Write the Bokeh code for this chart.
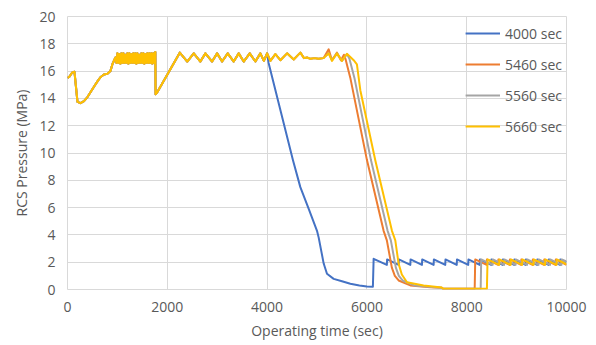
from bokeh.plotting import figure
from bokeh.models import Range1d, Legend, LegendItem, FixedTicker
from bokeh.embed import file_html
from bokeh.resources import INLINE

# ---- data ----
series_names = ["4000 sec", "5460 sec", "5560 sec", "5660 sec"]
series_colors = ["#4472C4", "#ED7D31", "#A5A5A5", "#FFC000"]

# common start (all cases identical up to 4000 s)
common_t = [0, 40, 95, 140, 200, 260, 330, 400, 470, 530, 600, 660, 730, 800, 860, 900, 960,
            980, 1000, 1020, 1040, 1060, 1080, 1100, 1120, 1140, 1160, 1180, 1200, 1220, 1240,
            1260, 1280, 1300, 1320, 1340, 1360, 1380, 1400, 1420, 1440, 1460, 1480, 1500, 1520,
            1540, 1560, 1580, 1600, 1620, 1640, 1660, 1680, 1700, 1720, 1740, 1760,
            1765, 1790, 2250, 2400, 2530, 2663, 2764, 2898, 2998, 3098, 3211, 3331, 3431,
            3531, 3652, 3765, 3865, 3935, 4000]
common_p = [15.5, 15.6, 15.9, 15.95, 13.75, 13.65, 13.8, 14.1, 14.5, 14.85, 15.25, 15.55, 15.75,
            15.8, 16.0, 16.5, 17.0,
            16.6, 17.3, 16.6, 17.25, 16.55, 17.3, 16.6, 17.3, 16.6, 17.2, 16.6, 17.3, 16.55, 17.3,
            16.6, 17.25, 16.6, 17.3, 16.6, 17.3, 16.55, 17.3, 16.6, 17.2, 16.6, 17.3, 16.6, 17.3,
            16.55, 17.25, 16.6, 17.3, 16.6, 17.3, 16.6, 17.3, 16.55, 17.3, 16.6, 17.4,
            14.3, 14.4, 17.35, 16.7, 17.3, 16.7, 17.3, 16.7, 17.3, 16.7, 17.3, 16.7, 17.3,
            16.7, 17.3, 16.7, 17.3, 16.75, 17.3]

# 4000 sec case
blue_t = [4030, 4520, 4666, 4834, 5000, 5034, 5134, 5200, 5334, 5500, 5668, 5850, 6000, 6120,
          6135, 6400, 6405, 6636, 6641, 6870, 6875, 7103, 7108, 7337, 7342, 7570, 7575, 7800,
          7805, 8030, 8035, 8260, 8265, 8490, 8495, 8720, 8725, 8950, 8955, 9180, 9185, 9410,
          9415, 9640, 9645, 9870, 9875, 10000]
blue_p = [16.6, 9.45, 7.5, 5.9, 4.3, 3.8, 1.9, 1.15, 0.78, 0.6, 0.42, 0.3, 0.22, 0.2,
          2.25, 1.8, 2.2, 1.8, 2.2, 1.8, 2.2, 1.8, 2.2, 1.8, 2.2, 1.8, 2.2, 1.8,
          2.2, 1.8, 2.2, 1.8, 2.2, 1.8, 2.2, 1.8, 2.2, 1.8, 2.2, 1.8, 2.2, 1.8,
          2.2, 1.8, 2.2, 1.8, 2.2, 2.0]

# plateau shared by the three later cases
plateau_t = [4066, 4166, 4266, 4400, 4533, 4667, 4740, 4800, 4870, 4950, 5030, 5130]
plateau_p = [16.75, 17.25, 16.8, 17.3, 16.85, 17.35, 16.95, 17.0, 16.9, 16.95, 16.9, 16.95]

# 5460 sec case
orange_t = [5234, 5300, 5400, 5480, 5540, 5570, 5668, 6000, 6335, 6400, 6500, 6560, 6636, 6870,
            7270, 7500, 7530, 8160, 8171, 8400, 8405, 8630, 8635, 8860, 8865, 9090, 9095, 9320,
            9325, 9550, 9555, 9780, 9785, 10000]
orange_p = [17.6, 16.8, 17.35, 16.8, 17.2, 16.9, 15.5, 9.5, 4.3, 3.6, 1.6, 1.0, 0.66, 0.3,
            0.17, 0.12, 0.05, 0.05, 2.2, 1.8, 2.2, 1.8, 2.2, 1.8, 2.2, 1.8, 2.2, 1.8,
            2.2, 1.8, 2.2, 1.8, 2.2, 1.8]

# 5560 sec case
grey_t = [5234, 5300, 5400, 5500, 5600, 5650, 5750, 6080, 6415, 6480, 6580, 6640, 6716, 6950,
          7350, 7500, 7530, 8280, 8291, 8520, 8525, 8750, 8755, 8980, 8985, 9210, 9215, 9440,
          9445, 9670, 9675, 9900, 9905, 10000]
grey_p = [17.3, 16.8, 17.3, 16.75, 17.25, 16.9, 15.5, 9.5, 4.3, 3.6, 1.6, 1.0, 0.66, 0.3,
          0.17, 0.12, 0.05, 0.05, 2.2, 1.8, 2.2, 1.8, 2.2, 1.8, 2.2, 1.8, 2.2, 1.8,
          2.2, 1.8, 2.2, 1.8, 2.2, 2.05]

# 5660 sec case
yellow_t = [5234, 5300, 5400, 5500, 5600, 5735, 5800, 5868, 6169, 6502, 6569, 6636, 6700, 6803,
            7136, 7500, 7530, 8405, 8418, 8650, 8655, 8880, 8885, 9110, 9115, 9340, 9345, 9570,
            9575, 9800, 9805, 10000]
yellow_p = [17.3, 16.75, 17.3, 16.75, 17.27, 16.8, 16.5, 14.6, 9.45, 4.3, 3.6, 1.88, 1.1, 0.53,
            0.3, 0.15, 0.05, 0.05, 2.2, 1.8, 2.2, 1.8, 2.2, 1.8, 2.2, 1.8, 2.2, 1.8,
            2.2, 1.8, 2.2, 1.85]

x_ticks = [0, 2000, 4000, 6000, 8000, 10000]
y_ticks = [0, 2, 4, 6, 8, 10, 12, 14, 16, 18, 20]

series_t = [common_t + blue_t,
            common_t + plateau_t + orange_t,
            common_t + plateau_t + grey_t,
            common_t + plateau_t + yellow_t]
series_p = [common_p + blue_p,
            common_p + plateau_p + orange_p,
            common_p + plateau_p + grey_p,
            common_p + plateau_p + yellow_p]

# ---- figure ----
FONT = "Open Sans"
TXT = "#595959"
GRID = "#D9D9D9"

p = figure(width=596, height=345, x_range=Range1d(0, 10000), y_range=Range1d(0, 20),
           output_backend="svg", toolbar_location=None,
           min_border_left=67, min_border_right=30, min_border_top=16, min_border_bottom=56)
p.background_fill_color = "white"
p.border_fill_color = "white"
p.outline_line_color = GRID

p.xaxis.ticker = FixedTicker(ticks=x_ticks)
p.yaxis.ticker = FixedTicker(ticks=y_ticks)
for ax in (p.xaxis[0], p.yaxis[0]):
    ax.axis_line_color = None
    ax.major_tick_line_color = None
    ax.minor_tick_line_color = None
    ax.major_tick_out = 0
    ax.major_tick_in = 0
    ax.major_label_text_font = FONT
    ax.major_label_text_font_size = "14px"
    ax.major_label_text_color = TXT
    ax.axis_label_text_font = FONT
    ax.axis_label_text_font_size = "14px"
    ax.axis_label_text_color = TXT
    ax.axis_label_text_font_style = "normal"

p.xaxis.axis_label = "Operating time (sec)"
p.yaxis.axis_label = "RCS Pressure (MPa)"
p.xaxis.major_label_standoff = 12
p.xaxis.axis_label_standoff = 6
p.yaxis.major_label_standoff = 12
p.yaxis.axis_label_standoff = 5

p.xgrid.grid_line_color = GRID
p.ygrid.grid_line_color = GRID
p.xgrid.grid_line_width = 1
p.ygrid.grid_line_width = 1

renderers = []
for t, v, c in zip(series_t, series_p, series_colors):
    r = p.line(t, v, line_color=c, line_width=2, line_join="round")
    renderers.append(r)

legend = Legend(items=[LegendItem(label=n, renderers=[r]) for n, r in zip(series_names, renderers)],
                location="top_right", background_fill_alpha=0, border_line_color=None,
                glyph_width=35, glyph_height=26, label_height=26, spacing=5,
                padding=0, margin=4, label_standoff=5,
                label_text_font=FONT, label_text_font_size="14px", label_text_color=TXT)
p.add_layout(legend)

open("out.html", "w").write(file_html(p, INLINE))
